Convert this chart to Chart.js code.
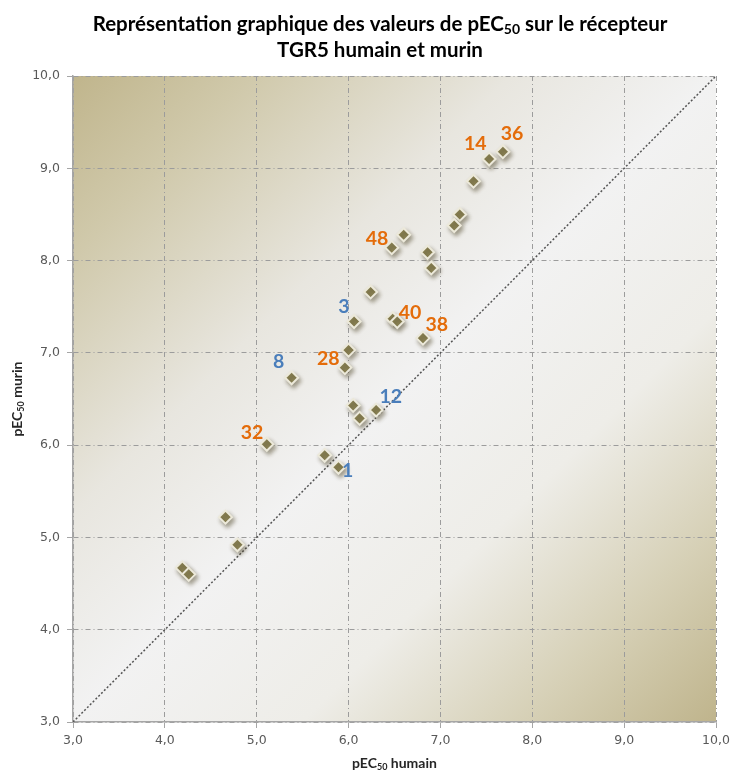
<!DOCTYPE html>
<html>
<head>
<meta charset="utf-8">
<script src="https://cdn.jsdelivr.net/npm/chart.js@4"></script>
<style>
  html, body { margin: 0; padding: 0; background: #fff; }
  #wrap { width: 731px; height: 771px; }
</style>
</head>
<body>
<div id="wrap"><canvas id="chart"></canvas></div>
<script>
// pEC50 values
const humanValues = [7.68, 7.53, 7.36, 7.21, 7.15, 6.60, 6.47, 6.86, 6.90, 6.24, 6.06, 6.48, 6.53,
  6.81, 6.00, 5.96, 5.38, 6.05, 6.12, 6.30, 5.11, 5.74, 5.89, 4.66, 4.79, 4.19, 4.26];
const murineValues = [9.18, 9.10, 8.86, 8.50, 8.38, 8.28, 8.14, 8.09, 7.92, 7.66, 7.34, 7.37, 7.34,
  7.16, 7.03, 6.84, 6.73, 6.43, 6.29, 6.38, 6.01, 5.89, 5.76, 5.22, 4.92, 4.67, 4.60];

// compound numbers written beside some points (text centre, data units)
const orangeLabels = ["14", "36", "48", "40", "38", "28", "32"];
const orangeLabelX = [7.38, 7.78, 6.31, 6.67, 6.96, 5.78, 4.95];
const orangeLabelY = [9.27, 9.37, 8.24, 7.44, 7.30, 6.94, 6.14];
const blueLabels = ["3", "8", "12", "1"];
const blueLabelX = [5.95, 5.24, 6.46, 5.99];
const blueLabelY = [7.50, 6.90, 6.53, 5.72];

const axisMin = 3;
const axisMax = 10;
const diagonal = [{ x: axisMin, y: axisMin }, { x: axisMax, y: axisMax }];

const titleLines = [
  [["Représentation graphique des valeurs de pEC", false], ["50", true], [" sur le récepteur", false]],
  [["TGR5 humain et murin", false]],
];
const xTitle = [["pEC", false], ["50", true], [" humain", false]];
const yTitle = [["pEC", false], ["50", true], [" murin", false]];

const points = humanValues.map((x, i) => ({ x, y: murineValues[i] }));

// draws text with subscript pieces, centred on (cx, cy)
function drawRich(ctx, parts, cx, cy, size, family) {
  const subSize = Math.round(size * 0.66);
  const fontFor = (sub) => `bold ${sub ? subSize : size}px ${family}`;
  let total = 0;
  parts.forEach(([t, sub]) => {
    ctx.font = fontFor(sub);
    total += ctx.measureText(t).width;
  });
  let x = cx - total / 2;
  ctx.textBaseline = "middle";
  ctx.textAlign = "left";
  parts.forEach(([t, sub]) => {
    ctx.font = fontFor(sub);
    ctx.fillText(t, x, sub ? cy + size * 0.28 : cy);
    x += ctx.measureText(t).width;
  });
}

const backdrop = {
  id: "backdrop",
  beforeDraw(chart) {
    const { ctx, chartArea: a } = chart;
    const g = ctx.createLinearGradient(a.left, a.top, a.right, a.bottom);
    g.addColorStop(0, "#C0B58C");
    g.addColorStop(0.14, "#D0C9AB");
    g.addColorStop(0.34, "#E8E6DF");
    g.addColorStop(0.5, "#F2F2F2");
    g.addColorStop(0.68, "#EEEDE8");
    g.addColorStop(0.85, "#D6D0B6");
    g.addColorStop(1, "#BFB48C");
    ctx.save();
    ctx.fillStyle = g;
    ctx.fillRect(a.left, a.top, a.right - a.left, a.bottom - a.top);
    ctx.restore();
  },
};

const shadow = {
  id: "shadow",
  beforeDatasetDraw(chart, args) {
    if (args.index !== 0) return;
    const ctx = chart.ctx;
    ctx.save();
    ctx.shadowColor = "rgba(70,62,30,0.45)";
    ctx.shadowBlur = 4;
    ctx.shadowOffsetX = 2;
    ctx.shadowOffsetY = 3;
  },
  afterDatasetDraw(chart, args) {
    if (args.index !== 0) return;
    chart.ctx.restore();
  },
};

const texts = {
  id: "texts",
  afterDraw(chart) {
    const { ctx, scales } = chart;
    const a = chart.chartArea;
    ctx.save();
    ctx.fillStyle = "#000";
    drawRich(ctx, titleLines[0], 380, 24, 20.5, "Lato");
    drawRich(ctx, titleLines[1], 380, 50, 20.5, "Lato");

    ctx.fillStyle = "#262626";
    drawRich(ctx, xTitle, (a.left + a.right) / 2, 763, 14, "Lato");
    ctx.save();
    ctx.translate(17, 399);
    ctx.rotate(-Math.PI / 2);
    drawRich(ctx, yTitle, 0, 0, 14, "Lato");
    ctx.restore();

    const put = (labels, xs, ys, color) => {
      ctx.fillStyle = color;
      labels.forEach((t, i) => {
        drawRich(ctx, [[t, false]], scales.x.getPixelForValue(xs[i]), scales.y.getPixelForValue(ys[i]), 19.5, "Lato");
      });
    };
    put(orangeLabels, orangeLabelX, orangeLabelY, "#E46C0A");
    put(blueLabels, blueLabelX, blueLabelY, "#4A7EBB");
    ctx.restore();
  },
};

const tickFmt = (v) => v.toFixed(1).replace(".", ",");

const axisOpts = (pos) => ({
  type: "linear",
  position: pos,
  min: axisMin,
  max: axisMax,
  ticks: {
    stepSize: 1,
    callback: tickFmt,
    color: "#595959",
    font: { family: "DejaVu Sans", size: 12.5 },
    padding: pos === "left" ? 7 : 5,
  },
  grid: {
    color: "#9C9C9C",
    lineWidth: 1,
    tickLength: 6,
    tickBorderDash: [],
    tickColor: "#A6A6A6",
  },
  border: { display: true, color: "#A6A6A6", width: 1.5, dash: [5, 3, 1, 3] },
  afterFit(scale) {
    if (pos === "left") {
      scale.width = 73;
      scale.paddingTop = 0;
      scale.paddingBottom = 0;
    } else {
      scale.height = 49;
      scale.paddingLeft = 0;
      scale.paddingRight = 0;
    }
  },
});

new Chart(document.getElementById("chart"), {
  type: "scatter",
  data: {
    datasets: [
      {
        data: points,
        pointStyle: "rectRot",
        pointRadius: 6.5,
        pointHoverRadius: 6.5,
        backgroundColor: "#8C8456",
        borderColor: "#ECE9DA",
        borderWidth: 2,
      },
      {
        type: "line",
        data: diagonal,
        borderColor: "#555555",
        borderWidth: 1.5,
        borderDash: [2, 2],
        pointRadius: 0,
        fill: false,
      },
    ],
  },
  options: {
    responsive: true,
    maintainAspectRatio: false,
    animation: false,
    layout: { padding: { top: 76, right: 15, left: 0, bottom: 0 } },
    plugins: {
      legend: { display: false },
      tooltip: { enabled: false },
      title: { display: false },
    },
    scales: {
      x: axisOpts("bottom"),
      y: axisOpts("left"),
    },
  },
  plugins: [backdrop, shadow, texts],
});
</script>
</body>
</html>
